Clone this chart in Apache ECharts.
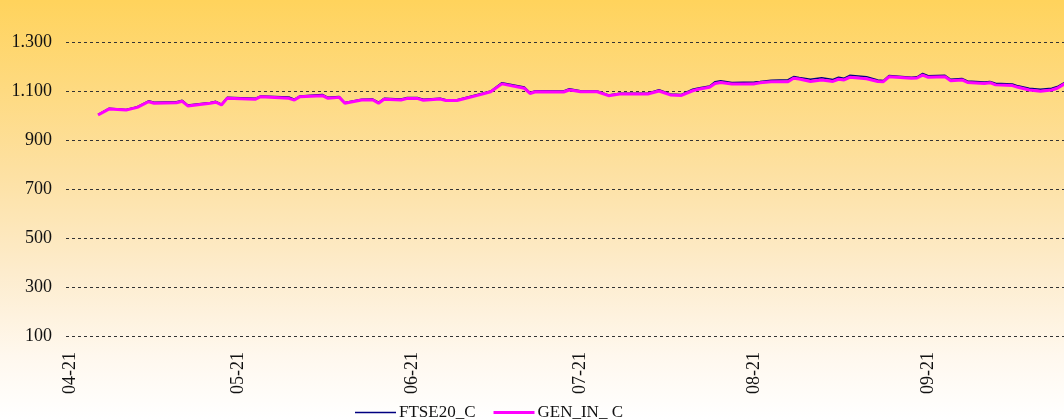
<!DOCTYPE html>
<html>
<head>
<meta charset="utf-8">
<script src="https://cdn.jsdelivr.net/npm/echarts@6/dist/echarts.min.js"></script>
<style>
  html, body {
    margin: 0;
    padding: 0;
  }
  #chart {
    width: 1064px;
    height: 419px;
    background: linear-gradient(to bottom, #ffd35c 0%, #fde0a0 40%, #fdeccd 65%, #fff8ee 85%, #ffffff 100%);
  }
</style>
</head>
<body>
<div id="chart"></div>
<script>
// trading days
var dates = [
  '2006-04-26', '2006-04-28', '2006-05-01', '2006-05-03', '2006-05-05', '2006-05-06',
  '2006-05-10', '2006-05-11', '2006-05-12', '2006-05-16', '2006-05-17', '2006-05-18',
  '2006-05-19', '2006-05-24', '2006-05-25', '2006-05-30', '2006-05-31', '2006-06-01',
  '2006-06-05', '2006-06-06', '2006-06-08', '2006-06-09', '2006-06-12', '2006-06-14',
  '2006-06-15', '2006-06-16', '2006-06-19', '2006-06-20', '2006-06-22', '2006-06-23',
  '2006-06-26', '2006-06-27', '2006-06-29', '2006-07-03', '2006-07-05', '2006-07-07',
  '2006-07-11', '2006-07-12', '2006-07-13', '2006-07-18', '2006-07-19', '2006-07-20',
  '2006-07-21', '2006-07-24', '2006-07-26', '2006-07-28', '2006-08-02', '2006-08-04',
  '2006-08-06', '2006-08-08', '2006-08-10', '2006-08-11', '2006-08-13', '2006-08-14',
  '2006-08-15', '2006-08-17', '2006-08-21', '2006-08-22', '2006-08-24', '2006-08-27',
  '2006-08-28', '2006-08-29', '2006-08-31', '2006-09-02', '2006-09-04', '2006-09-05',
  '2006-09-06', '2006-09-07', '2006-09-10', '2006-09-12', '2006-09-13', '2006-09-14',
  '2006-09-18', '2006-09-19', '2006-09-20', '2006-09-21', '2006-09-24', '2006-09-25',
  '2006-09-27', '2006-09-28', '2006-10-01', '2006-10-02', '2006-10-03', '2006-10-06',
  '2006-10-07', '2006-10-09', '2006-10-11', '2006-10-13', '2006-10-14', '2006-10-15',
  '2006-10-16'
];

var ftse20 = [
  1004, 1030, 1025, 1036, 1060, 1054,
  1056, 1062, 1043, 1053, 1058, 1046,
  1074, 1070, 1080, 1076, 1067, 1080,
  1086, 1074, 1078, 1053, 1066, 1067,
  1054, 1070, 1067, 1073, 1073, 1066,
  1070, 1064, 1064, 1088, 1100, 1134,
  1116, 1094, 1101, 1100, 1109, 1105,
  1101, 1100, 1084, 1091, 1091, 1105,
  1088, 1086, 1107, 1112, 1120, 1138,
  1142, 1135, 1137, 1139, 1144, 1146,
  1159, 1155, 1148, 1154, 1147, 1156,
  1152, 1164, 1158, 1145, 1143, 1163,
  1156, 1158, 1172, 1162, 1164, 1148,
  1151, 1141, 1137, 1139, 1132, 1129,
  1121, 1111, 1107, 1111, 1118, 1131,
  1144
];

var genIn = [
  1002, 1027, 1022, 1033, 1056, 1050,
  1052, 1058, 1039, 1050, 1054, 1043,
  1070, 1066, 1077, 1070, 1063, 1077,
  1081, 1070, 1074, 1050, 1063, 1063,
  1050, 1066, 1063, 1069, 1069, 1062,
  1067, 1061, 1061, 1084, 1097, 1129,
  1111, 1090, 1097, 1096, 1104, 1101,
  1097, 1097, 1081, 1088, 1088, 1100,
  1084, 1082, 1101, 1107, 1115, 1131,
  1135, 1129, 1129, 1134, 1138, 1138,
  1152, 1149, 1139, 1145, 1139, 1148,
  1145, 1156, 1150, 1139, 1138, 1158,
  1152, 1153, 1165, 1156, 1158, 1142,
  1145, 1135, 1131, 1134, 1125, 1122,
  1115, 1104, 1099, 1104, 1111, 1125,
  1138
];

// x axis labels sit on the 21st of each month
var labelDates = ['2006-04-21', '2006-05-21', '2006-06-21', '2006-07-21', '2006-08-21', '2006-09-21'];

var yTicks = { min: 100, max: 1300, step: 200 };

var DAY = 86400000;

function toTime(s) {
  var p = s.split('-');
  return Date.UTC(+p[0], +p[1] - 1, +p[2]);
}

var start = toTime(labelDates[0]);

// day offset from the first label date
function toDay(s) {
  return Math.round((toTime(s) - start) / DAY);
}

function pad(n) {
  return (n < 10 ? '0' : '') + n;
}

function thousands(v) {
  if (v < 1000) return String(v);
  var rest = v % 1000;
  return Math.floor(v / 1000) + '.' + (rest < 100 ? '0' : '') + (rest < 10 ? '0' : '') + rest;
}

var chart = echarts.init(document.getElementById('chart'));
var font = 'Liberation Serif';

var option = {
  backgroundColor: 'transparent',
  animation: false,
  grid: {
    left: 66,
    right: 0,
    top: 42,
    bottom: 83
  },
  legend: {
    left: 350,
    top: 399,
    itemWidth: 41,
    itemHeight: 14,
    itemGap: 18,
    textStyle: {
      fontFamily: font,
      fontSize: 17,
      color: '#111',
      padding: [0, 0, 0, -2]
    },
    data: [
      { name: 'FTSE20_C', icon: 'path://M0,0h41v1.5h-41z' },
      { name: 'GEN_IN_ C', icon: 'path://M0,0h41v3h-41z' }
    ]
  },
  xAxis: {
    type: 'value',
    min: -0.713,
    max: 177.2,
    axisLine: { show: false },
    axisTick: { show: false },
    splitLine: { show: false },
    axisLabel: {
      rotate: 90,
      margin: 16,
      fontFamily: font,
      fontSize: 18,
      color: '#111',
      customValues: labelDates.map(toDay),
      formatter: function (v) {
        var d = new Date(start + Math.round(v) * DAY);
        return pad(d.getUTCMonth() + 1) + '-' + pad(d.getUTCDate());
      }
    }
  },
  yAxis: {
    type: 'value',
    min: yTicks.min,
    max: yTicks.max,
    interval: yTicks.step,
    axisLine: { show: false },
    axisTick: { show: false },
    axisLabel: {
      margin: 14,
      fontFamily: font,
      fontSize: 18,
      color: '#111',
      formatter: thousands
    },
    splitLine: {
      lineStyle: {
        color: '#333',
        width: 1,
        type: [3, 3]
      }
    }
  },
  series: [
    {
      name: 'FTSE20_C',
      type: 'line',
      symbol: 'none',
      data: dates.map(function (d, i) { return [toDay(d), ftse20[i]]; }),
      lineStyle: { color: '#000080', width: 1.5 },
      itemStyle: { color: '#000080' }
    },
    {
      name: 'GEN_IN_ C',
      type: 'line',
      symbol: 'none',
      data: dates.map(function (d, i) { return [toDay(d), genIn[i]]; }),
      lineStyle: { color: '#ff00ff', width: 3 },
      itemStyle: { color: '#ff00ff' }
    }
  ]
};

chart.setOption(option);
</script>
</body>
</html>
